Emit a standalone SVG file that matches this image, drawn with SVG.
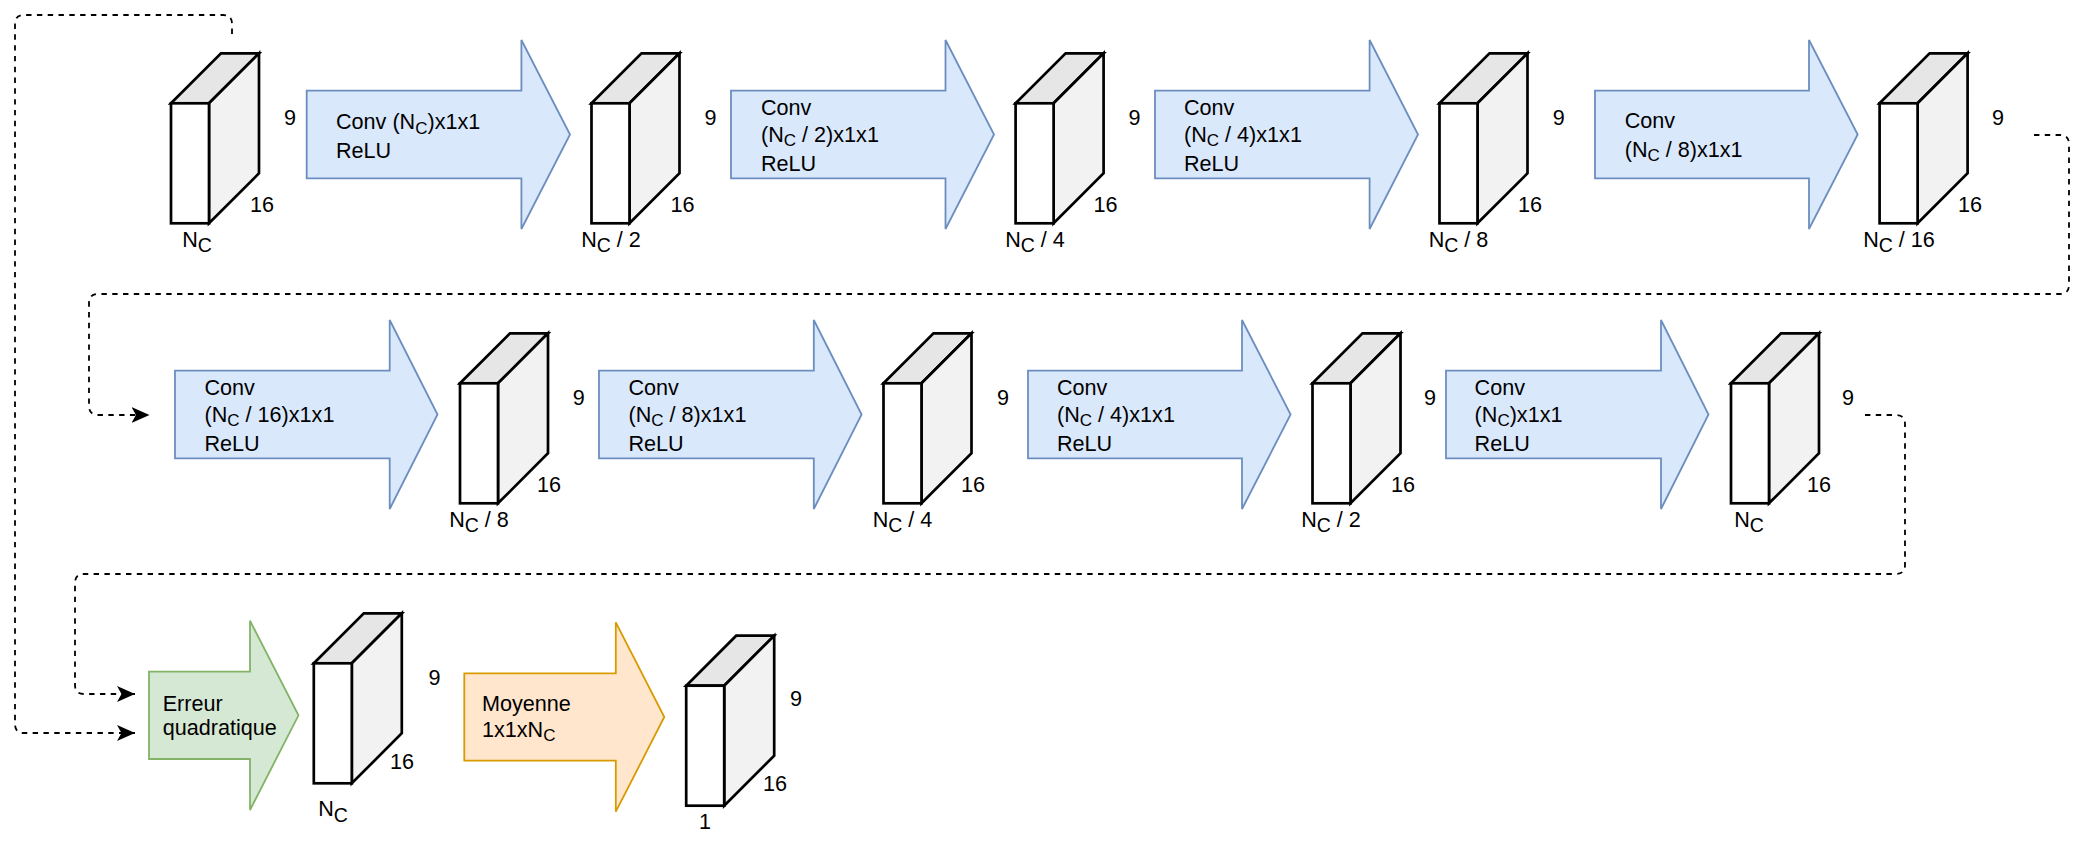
<svg xmlns="http://www.w3.org/2000/svg" xmlns:xlink="http://www.w3.org/1999/xlink" width="2088" height="842" viewBox="0 0 2088 842">
<style>
.t{font-family:"Liberation Sans",Arial,Helvetica,sans-serif;font-size:21.6px;fill:#000}
.m{text-anchor:middle}
.sub{font-size:17px}
.lsub{font-size:19.5px}
.cube polygon,.cube rect{stroke:#000;stroke-width:2.7;stroke-linejoin:miter}
.blue{fill:#dae8fc;stroke:#6c8ebf;stroke-width:1.8}
.green{fill:#d5e8d4;stroke:#82b366;stroke-width:1.8}
.orange{fill:#ffe6cc;stroke:#d79b00;stroke-width:1.8}
.dash{fill:none;stroke:#000;stroke-width:1.8;stroke-dasharray:5.4 5.4}
</style>
<defs>
<g id="cubeShape" class="cube">
<polygon points="0,0 50,-50 88,-50 38,0" fill="#e6e6e6"/>
<polygon points="38,0 88,-50 88,70 38,120" fill="#f2f2f2"/>
<rect x="0" y="0" width="38" height="120" fill="#ffffff"/>
</g>
<marker id="arr" markerUnits="userSpaceOnUse" markerWidth="20" markerHeight="18" refX="18" refY="8" orient="auto" viewBox="0 0 20 18">
<path d="M0,0 L18,8 L0,16 L4.5,8 Z" fill="#000"/>
</marker>
</defs>
<rect x="0" y="0" width="2088" height="842" fill="#ffffff"/>

<g id="connectors">
<path class="dash" marker-end="url(#arr)" d="M232,34 V24 Q232,15 223,15 H24 Q15,15 15,24 V724 Q15,733 24,733 H135"/>
<path class="dash" marker-end="url(#arr)" d="M2034,135 H2060 Q2069,135 2069,144 V285 Q2069,294 2060,294 H98 Q89,294 89,303 V406 Q89,415 98,415 H149.5"/>
<path class="dash" marker-end="url(#arr)" d="M1865,415 H1896 Q1905,415 1905,424 V565 Q1905,574 1896,574 H84 Q75,574 75,583 V685 Q75,694 84,694 H135"/>
</g>

<!-- Row 1 -->
<g id="cube1">
<use xlink:href="#cubeShape" x="171" y="103.3"/>
<text class="t" x="284" y="124.7">9</text>
<text class="t" x="250" y="212">16</text>
<text class="t m" x="197" y="246.5">N<tspan class="lsub" dy="5.5">C</tspan></text>
</g>
<g id="arrow1">
<path class="blue" d="M306.7,90.7 H521.4 V40 L570,134.5 L521.4,229 V178.3 H306.7 Z"/>
<text class="t" x="336" y="129">Conv (N<tspan class="sub" dy="4.5">C</tspan><tspan dy="-4.5">)x1x1</tspan></text>
<text class="t" x="336" y="158">ReLU</text>
</g>
<g id="cube2">
<use xlink:href="#cubeShape" x="591.5" y="103.3"/>
<text class="t" x="704.5" y="124.7">9</text>
<text class="t" x="670.5" y="212">16</text>
<text class="t m" x="611" y="246.5">N<tspan class="lsub" dy="5.5">C</tspan><tspan dy="-5.5"> / 2</tspan></text>
</g>
<g id="arrow2">
<path class="blue" d="M731,90.7 H945.5 V40 L994,134.5 L945.5,229 V178.3 H731 Z"/>
<text class="t" x="761" y="115">Conv</text>
<text class="t" x="761" y="141.7">(N<tspan class="sub" dy="4.5">C</tspan><tspan dy="-4.5"> / 2)x1x1</tspan></text>
<text class="t" x="761" y="170.7">ReLU</text>
</g>
<g id="cube3">
<use xlink:href="#cubeShape" x="1015.6" y="103.3"/>
<text class="t" x="1128.5" y="124.7">9</text>
<text class="t" x="1093.5" y="212">16</text>
<text class="t m" x="1035" y="246.5">N<tspan class="lsub" dy="5.5">C</tspan><tspan dy="-5.5"> / 4</tspan></text>
</g>
<g id="arrow3">
<path class="blue" d="M1155,90.7 H1369.6 V40 L1418,134.5 L1369.6,229 V178.3 H1155 Z"/>
<text class="t" x="1184" y="115">Conv</text>
<text class="t" x="1184" y="141.7">(N<tspan class="sub" dy="4.5">C</tspan><tspan dy="-4.5"> / 4)x1x1</tspan></text>
<text class="t" x="1184" y="170.7">ReLU</text>
</g>
<g id="cube4">
<use xlink:href="#cubeShape" x="1439.5" y="103.3"/>
<text class="t" x="1552.7" y="124.7">9</text>
<text class="t" x="1518" y="212">16</text>
<text class="t m" x="1458.5" y="246.5">N<tspan class="lsub" dy="5.5">C</tspan><tspan dy="-5.5"> / 8</tspan></text>
</g>
<g id="arrow4">
<path class="blue" d="M1595,90.7 H1809 V40 L1857.7,134.5 L1809,229 V178.3 H1595 Z"/>
<text class="t" x="1624.7" y="128.3">Conv</text>
<text class="t" x="1624.7" y="156.7">(N<tspan class="sub" dy="4.5">C</tspan><tspan dy="-4.5"> / 8)x1x1</tspan></text>
</g>
<g id="cube5">
<use xlink:href="#cubeShape" x="1879.6" y="103.3"/>
<text class="t" x="1992" y="124.7">9</text>
<text class="t" x="1958" y="212">16</text>
<text class="t m" x="1899" y="246.5">N<tspan class="lsub" dy="5.5">C</tspan><tspan dy="-5.5"> / 16</tspan></text>
</g>

<!-- Row 2 -->
<g id="arrow5">
<path class="blue" d="M175,370.7 H389.7 V320 L437.5,414.5 L389.7,509 V458.3 H175 Z"/>
<text class="t" x="204.5" y="395">Conv</text>
<text class="t" x="204.5" y="421.7">(N<tspan class="sub" dy="4.5">C</tspan><tspan dy="-4.5"> / 16)x1x1</tspan></text>
<text class="t" x="204.5" y="450.7">ReLU</text>
</g>
<g id="cube6">
<use xlink:href="#cubeShape" x="460" y="383.3"/>
<text class="t" x="572.7" y="404.7">9</text>
<text class="t" x="537" y="491.7">16</text>
<text class="t m" x="479" y="526.5">N<tspan class="lsub" dy="5.5">C</tspan><tspan dy="-5.5"> / 8</tspan></text>
</g>
<g id="arrow6">
<path class="blue" d="M599,370.7 H813.8 V320 L861.6,414.5 L813.8,509 V458.3 H599 Z"/>
<text class="t" x="628.5" y="395">Conv</text>
<text class="t" x="628.5" y="421.7">(N<tspan class="sub" dy="4.5">C</tspan><tspan dy="-4.5"> / 8)x1x1</tspan></text>
<text class="t" x="628.5" y="450.7">ReLU</text>
</g>
<g id="cube7">
<use xlink:href="#cubeShape" x="883.5" y="383.3"/>
<text class="t" x="997" y="404.7">9</text>
<text class="t" x="961" y="491.7">16</text>
<text class="t m" x="902.5" y="526.5">N<tspan class="lsub" dy="5.5">C</tspan><tspan dy="-5.5"> / 4</tspan></text>
</g>
<g id="arrow7">
<path class="blue" d="M1028,370.7 H1242 V320 L1290.6,414.5 L1242,509 V458.3 H1028 Z"/>
<text class="t" x="1057" y="395">Conv</text>
<text class="t" x="1057" y="421.7">(N<tspan class="sub" dy="4.5">C</tspan><tspan dy="-4.5"> / 4)x1x1</tspan></text>
<text class="t" x="1057" y="450.7">ReLU</text>
</g>
<g id="cube8">
<use xlink:href="#cubeShape" x="1312.5" y="383.3"/>
<text class="t" x="1424" y="404.7">9</text>
<text class="t" x="1391" y="491.7">16</text>
<text class="t m" x="1331" y="526.5">N<tspan class="lsub" dy="5.5">C</tspan><tspan dy="-5.5"> / 2</tspan></text>
</g>
<g id="arrow8">
<path class="blue" d="M1446,370.7 H1661 V320 L1708.5,414.5 L1661,509 V458.3 H1446 Z"/>
<text class="t" x="1474.6" y="395">Conv</text>
<text class="t" x="1474.6" y="421.7">(N<tspan class="sub" dy="4.5">C</tspan><tspan dy="-4.5">)x1x1</tspan></text>
<text class="t" x="1474.6" y="450.7">ReLU</text>
</g>
<g id="cube9">
<use xlink:href="#cubeShape" x="1731" y="383.3"/>
<text class="t" x="1842" y="404.7">9</text>
<text class="t" x="1807" y="491.7">16</text>
<text class="t m" x="1749" y="526.5">N<tspan class="lsub" dy="5.5">C</tspan></text>
</g>

<!-- Row 3 -->
<g id="arrowError">
<path class="green" d="M149,671.7 H250 V620.7 L298.5,715.3 L250,810 V759 H149 Z"/>
<text class="t" x="162.7" y="711">Erreur</text>
<text class="t" x="162.7" y="735">quadratique</text>
</g>
<g id="cube10">
<use xlink:href="#cubeShape" x="313.8" y="663.3"/>
<text class="t" x="428.6" y="684.5">9</text>
<text class="t" x="390" y="769">16</text>
<text class="t m" x="333" y="816.2">N<tspan class="lsub" dy="5.5">C</tspan></text>
</g>
<g id="arrowMean">
<path class="orange" d="M464.3,673.3 H615.8 V622.3 L664.3,717 L615.8,811.7 V760.7 H464.3 Z"/>
<text class="t" x="482" y="710.7">Moyenne</text>
<text class="t" x="482" y="736.7">1x1xN<tspan class="sub" dy="4.5">C</tspan></text>
</g>
<g id="cube11">
<use xlink:href="#cubeShape" x="686.2" y="685.7"/>
<text class="t" x="790" y="705.5">9</text>
<text class="t" x="763" y="791">16</text>
<text class="t m" x="705" y="829">1</text>
</g>
</svg>
